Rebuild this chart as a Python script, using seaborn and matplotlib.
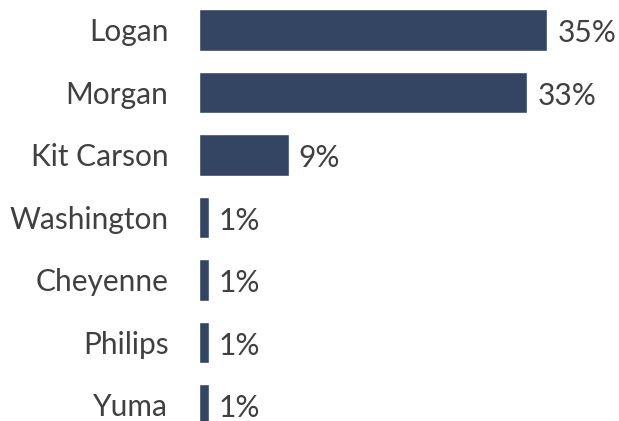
import matplotlib
matplotlib.use("Agg")
import matplotlib.pyplot as plt
import seaborn as sns
import pandas as pd

counties = ["Logan", "Morgan", "Kit Carson", "Washington", "Cheyenne", "Philips", "Yuma"]
shares = [35, 33, 9, 1, 1, 1, 1]

df = pd.DataFrame({"County": counties, "Share": shares})

sns.set_style("white")
plt.rcParams["font.family"] = ["Lato", "DejaVu Sans"]

fig = plt.figure(figsize=(6.19, 4.21), dpi=100)
ax = fig.add_axes([199 / 619, 0, 400 / 619, 1])

sns.barplot(data=df, x="Share", y="County", color="#344563", saturation=1,
            width=0.67, ax=ax)

ax.set_xlim(0, 40.2)
ax.set_ylim(6.256, -0.48)
ax.set_xlabel("")
ax.set_ylabel("")
ax.set_xticks([])
sns.despine(ax=ax, left=True, bottom=True)
ax.tick_params(axis="y", length=0, pad=22, labelsize=21.5, labelcolor="#404040")

for i, v in enumerate(shares):
    ax.text(v + 1.0, i + 0.05, f"{v}%", va="center", ha="left", fontsize=21.5, color="#404040")

fig.savefig("out.png", dpi=100)
